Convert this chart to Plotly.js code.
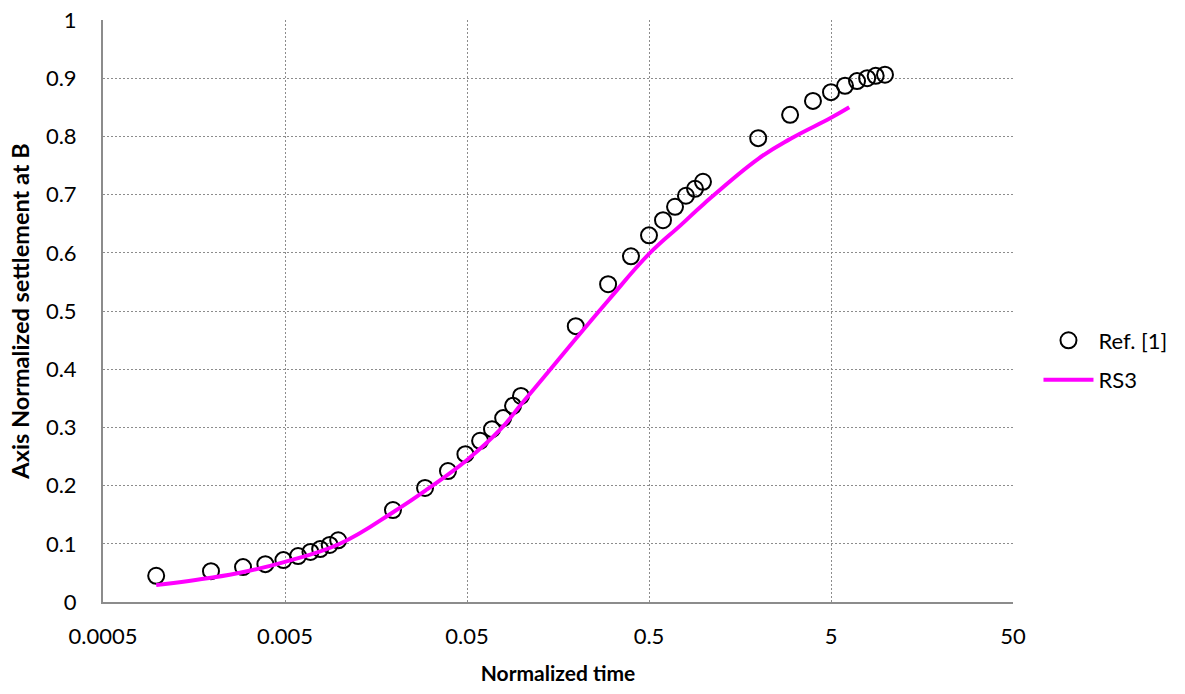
<!DOCTYPE html>
<html>
<head>
<meta charset="utf-8">
<script src="https://cdn.plot.ly/plotly-3.0.1.min.js"></script>
<style>html,body{margin:0;padding:0;background:#fff;}#chart{width:1185px;height:694px;}</style>
</head>
<body>
<div id="chart"></div>
<script>
// Reference data (Ref. [1])
const refTime = [0.00098, 0.00196, 0.00294, 0.0039, 0.0049, 0.0059, 0.0069, 0.0078, 0.0088, 0.0098,
  0.0196, 0.0294, 0.0393, 0.049, 0.059, 0.0686, 0.079, 0.0895, 0.099,
  0.198, 0.298, 0.398, 0.5, 0.597, 0.695, 0.798, 0.895, 0.99,
  1.99, 2.98, 3.98, 5.0, 5.97, 6.95, 7.9, 8.8, 9.9];
const refSettle = [0.045, 0.053, 0.060, 0.065, 0.072, 0.079, 0.086, 0.091, 0.098, 0.106,
  0.158, 0.196, 0.225, 0.254, 0.277, 0.297, 0.316, 0.337, 0.354,
  0.474, 0.546, 0.594, 0.630, 0.656, 0.679, 0.698, 0.710, 0.722,
  0.797, 0.837, 0.861, 0.876, 0.887, 0.895, 0.900, 0.904, 0.906];
// RS3 curve
const rsTime = [0.00098, 0.002, 0.003, 0.005, 0.01, 0.02, 0.03, 0.05, 0.076, 0.1, 0.143, 0.2, 0.3, 0.5, 0.75, 1.0, 2.0, 3.0, 5.0, 6.3];
const rsSettle = [0.029, 0.042, 0.052, 0.069, 0.100, 0.156, 0.193, 0.244, 0.296, 0.341, 0.399, 0.454, 0.519, 0.598, 0.648, 0.684, 0.762, 0.796, 0.832, 0.850];
const xTicks = [0.0005, 0.005, 0.05, 0.5, 5, 50];
const xTickText = ['0.0005', '0.005', '0.05', '0.5', '5', '50'];

const FONT = 'Lato, "Open Sans", sans-serif';
const traces = [
  {x: refTime, y: refSettle, type: 'scatter', mode: 'markers', name: 'Ref. [1]', legendgroup: 'a',
   marker: {symbol: 'circle-open', size: 16, color: '#000', line: {color: '#000', width: 2}}},
  {x: rsTime, y: rsSettle, type: 'scatter', mode: 'lines', name: 'RS3', legendgroup: 'b',
   line: {color: '#FF00FF', width: 4, shape: 'spline', smoothing: 1.2}}
];
const layout = {
  width: 1185, height: 694,
  margin: {l: 103, r: 172, t: 20, b: 92},
  paper_bgcolor: '#fff', plot_bgcolor: '#fff',
  font: {family: FONT, size: 22, color: '#000'},
  showlegend: true,
  legend: {x: 1.028, xanchor: 'left', y: 0.415, yanchor: 'middle', itemwidth: 50,
    font: {family: FONT, size: 22, color: '#000'}, tracegroupgap: 8, bgcolor: 'rgba(0,0,0,0)'},
  xaxis: {type: 'log', range: [Math.log10(0.0005), Math.log10(50)],
    tickvals: xTicks, ticktext: xTickText, ticks: '', ticklen: 0, ticklabelstandoff: 14,
    showgrid: true, gridcolor: '#8c8c8c', griddash: '2px,2px', gridwidth: 1,
    showline: true, linecolor: '#8c8c8c', linewidth: 2, zeroline: false, mirror: false,
    tickfont: {family: FONT, size: 22, color: '#000'},
    title: {text: '<b>Normalized time</b>', font: {family: FONT, size: 21, color: '#000'}, standoff: 18}},
  yaxis: {range: [0, 1], dtick: 0.1, tick0: 0, ticks: '', ticklabelstandoff: 20,
    showgrid: true, gridcolor: '#8c8c8c', griddash: '2px,2px', gridwidth: 1,
    showline: true, linecolor: '#8c8c8c', linewidth: 2, zeroline: false,
    tickfont: {family: FONT, size: 22, color: '#000'},
    title: {text: '<b>Axis Normalized settlement at B</b>', font: {family: FONT, size: 23.5, color: '#000'}, standoff: 10}}
};
Plotly.newPlot('chart', traces, layout, {displayModeBar: false, staticPlot: true});
</script>
</body>
</html>
